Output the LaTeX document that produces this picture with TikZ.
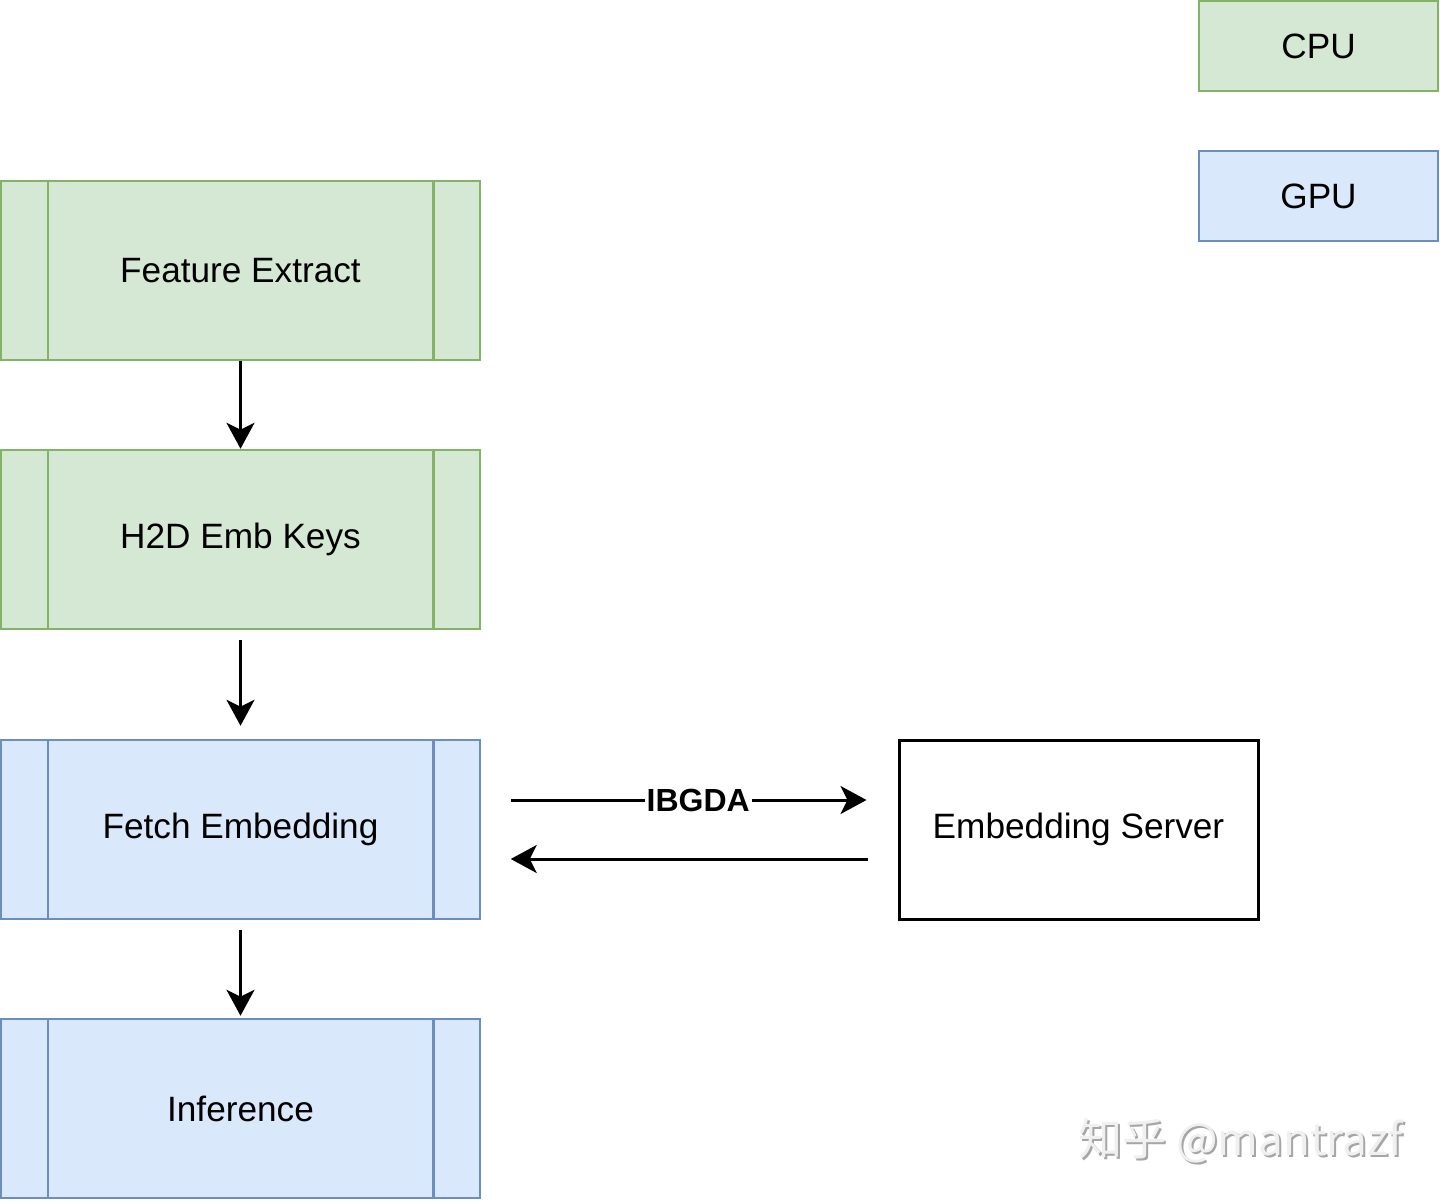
\documentclass[tikz,border=0pt]{standalone}
\usepackage{fontspec}
\setmainfont{Liberation Sans}
\newfontfamily\cjkfont{Noto Sans CJK SC}
\usetikzlibrary{arrows.meta}
\definecolor{gfill}{HTML}{D5E8D4}
\definecolor{gline}{HTML}{82B366}
\definecolor{bfill}{HTML}{DAE8FC}
\definecolor{bline}{HTML}{6C8EBF}
\tikzset{
  procbox/.style={draw, line width=1.25pt, minimum width=239.5pt, minimum height=89.5pt, inner sep=0pt,
    font=\fontsize{17.6pt}{21pt}\selectfont},
  cpubox/.style={procbox, fill=gfill, draw=gline},
  gpubox/.style={procbox, fill=bfill, draw=bline},
  legendbox/.style={draw, line width=1.25pt, minimum width=119.5pt, minimum height=45pt, inner sep=0pt,
    font=\fontsize{17.6pt}{21pt}\selectfont},
  conn/.style={line width=1.5pt, -{Stealth[length=13pt,width=14pt,inset=3.5pt]}},
}
\begin{document}
\begin{tikzpicture}[x=0.5pt,y=-0.5pt]
\useasboundingbox (0,0) rectangle (1440,1200);
\fill[white] (0,0) rectangle (1440,1200);

% legend
\node[legendbox, fill=gfill, draw=gline] (cpu) at (1318.5,46) {CPU};
\node[legendbox, fill=bfill, draw=bline] (gpu) at (1318.5,196) {GPU};

% process boxes
\node[cpubox] (fe)  at (240.5,270.5) {Feature Extract};
\node[cpubox] (h2d) at (240.5,539.5) {H2D Emb Keys};
\node[gpubox] (fetch) at (240.5,829.5) {Fetch Embedding};
\node[gpubox] (inf) at (240.5,1108.5) {Inference};

\foreach \n/\c in {fe/gline,h2d/gline,fetch/bline,inf/bline}{
  \draw[\c, line width=1.25pt] ([xshift=24pt]\n.north west) -- ([xshift=24pt]\n.south west);
  \draw[\c, line width=1.25pt] ([xshift=-24pt]\n.north east) -- ([xshift=-24pt]\n.south east);
}

% server
\node[draw, line width=1.5pt, minimum width=179.5pt, minimum height=89.5pt, inner sep=0pt,
  font=\fontsize{17.6pt}{21pt}\selectfont] (srv) at (1078.5,829.5) {Embedding Server};

% vertical arrows
\draw[conn] (fe) -- (h2d);
\draw[conn, shorten <=5pt, shorten >=6.5pt] (h2d) -- (fetch);
\draw[conn, shorten <=5pt, shorten >=1pt] (fetch) -- (inf);

% IBGDA arrows
\draw[conn] ([xshift=14.75pt,yshift=14.75pt]fetch.east) -- ([xshift=-15.5pt,yshift=14.75pt]srv.west)
  node[pos=0.527, fill=white, inner sep=1pt, font=\bfseries\fontsize{16pt}{19pt}\selectfont] (lbl) {IBGDA};
\draw[conn] ([xshift=-15pt,yshift=-14.75pt]srv.west) -- ([xshift=14.75pt,yshift=-14.75pt]fetch.east);

% watermark
\node[anchor=west, text=gray!70, font=\cjkfont\fontsize{22pt}{26pt}\selectfont, inner sep=0pt] (wm0) at (1080,1143) {知乎 @mantrazf};
\node[anchor=west, text=gray!12, font=\cjkfont\fontsize{22pt}{26pt}\selectfont, inner sep=0pt] (wm) at (1078,1141) {知乎 @mantrazf};
\end{tikzpicture}
\end{document}
